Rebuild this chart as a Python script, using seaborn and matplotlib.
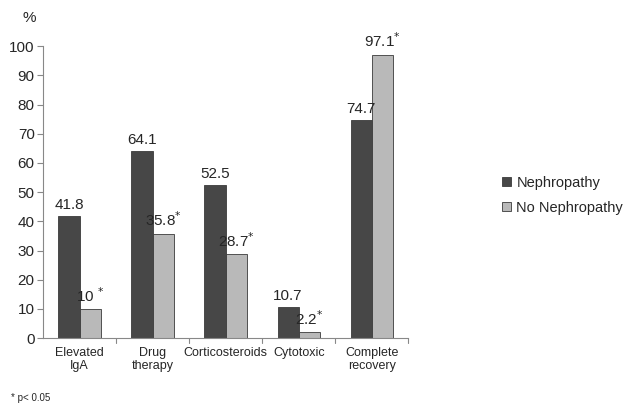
import seaborn as sns
import pandas as pd
import matplotlib.pyplot as plt

categories = ["Elevated\nIgA", "Drug\ntherapy", "Corticosteroids", "Cytotoxic", "Complete\nrecovery"]
nephropathy = [41.8, 64.1, 52.5, 10.7, 74.7]
no_nephropathy = [10, 35.8, 28.7, 2.2, 97.1]
nn_text = ["10 ", "35.8", "28.7", "2.2", "97.1"]

df = pd.DataFrame({
    "category": categories * 2,
    "value": nephropathy + no_nephropathy,
    "group": ["Nephropathy"] * 5 + ["No Nephropathy"] * 5,
})

sns.set_style("white")
plt.rcParams["font.family"] = ["Liberation Sans", "DejaVu Sans"]

fig = plt.figure(figsize=(6.33, 4.05), dpi=100)
ax = fig.add_axes([0.068, 0.165, 0.577, 0.721])

sns.barplot(data=df, x="category", y="value", hue="group",
            palette=["#474747", "#b9b9b9"], width=0.58,
            edgecolor="#3a3a3a", linewidth=0.6, saturation=1, ax=ax)

# value labels, asterisk on the No Nephropathy bars (p < 0.05)
cont_n, cont_nn = ax.containers[0], ax.containers[1]
ax.bar_label(cont_n, labels=[f"{v:g}" for v in nephropathy], padding=3, fontsize=11)
ax.bar_label(cont_nn, labels=[t + r"$^{*}$" for t in nn_text], padding=3, fontsize=11)

ax.set_ylim(0, 100)
ax.set_xlim(-0.5, 4.5)
ax.set_yticks(range(0, 101, 10))
ax.tick_params(axis="y", labelsize=11, length=4, color="#888888", direction="out", left=True, pad=2)
ax.tick_params(axis="x", labelsize=9, length=0, pad=6)
for b in [0.5, 1.5, 2.5, 3.5, 4.5]:
    ax.axvline(b, ymin=-0.015, ymax=0, color="#888888", lw=0.8, clip_on=False)
ax.set_xlabel("")
ax.set_ylabel("")
for side in ["top", "right"]:
    ax.spines[side].set_visible(False)
ax.spines["left"].set_color("#888888")
ax.spines["bottom"].set_color("#888888")

ax.legend(loc="center left", bbox_to_anchor=(1.22, 0.49), frameon=False,
          fontsize=10.5, handlelength=0.6, handleheight=0.6, handletextpad=0.4,
          labelspacing=0.75)

fig.text(0.035, 0.955, "%", fontsize=11, va="center")
fig.text(0.018, 0.018, "* p< 0.05", fontsize=7, va="center")

plt.savefig("out.png", dpi=100)
